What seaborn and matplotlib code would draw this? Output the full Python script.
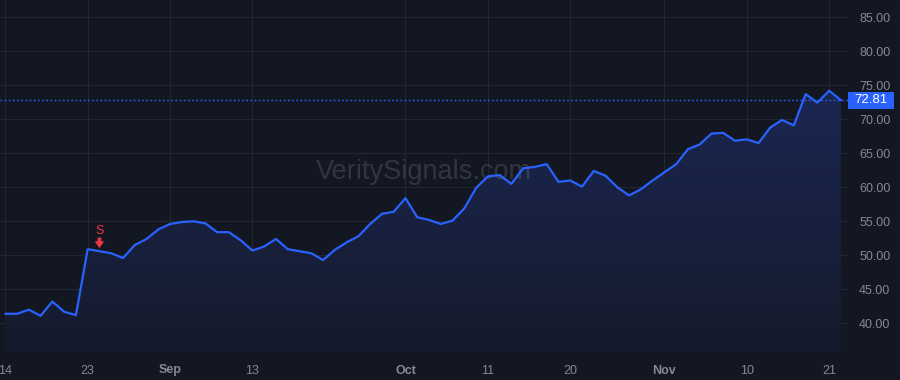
import numpy as np
import pandas as pd
import matplotlib
matplotlib.use("Agg")
import matplotlib.pyplot as plt
import matplotlib.transforms as mtransforms
from matplotlib.patches import Rectangle
from matplotlib.colors import LinearSegmentedColormap
import seaborn as sns

# ---- data ----
prices = [41.4, 41.4, 42.0, 41.1, 43.2, 41.7, 41.2, 50.9, 50.6, 50.3,
          49.6, 51.5, 52.4, 53.8, 54.6, 54.9, 55.0, 54.7, 53.4, 53.4,
          52.2, 50.7, 51.3, 52.4, 50.9, 50.6, 50.3, 49.3, 50.8, 51.9,
          52.8, 54.6, 56.1, 56.4, 58.4, 55.6, 55.2, 54.6, 55.1, 56.9,
          59.9, 61.6, 61.8, 60.5, 62.8, 63.0, 63.4, 60.8, 61.0, 60.1,
          62.4, 61.7, 60.0, 58.8, 59.7, 61.0, 62.2, 63.4, 65.6, 66.3,
          67.9, 68.0, 66.85, 67.05, 66.5, 68.8, 69.9, 69.1, 73.7, 72.45,
          74.2, 72.81]
tick_positions = [0, 7, 14, 21, 34, 41, 48, 56, 63, 70]
tick_labels = ["14", "23", "Sep", "13", "Oct", "11", "20", "Nov", "10", "21"]
bold_labels = ["Sep", "Oct", "Nov"]
y_ticks = [40, 45, 50, 55, 60, 65, 70, 75, 80, 85]
last_price = 72.81
signal_index = 8
signal_label = "S"
watermark = "VeritySignals.com"

df = pd.DataFrame({"idx": np.arange(len(prices)), "price": prices})

BG = "#131722"
GRID = "#232734"
BLUE = "#2962ff"
RED = "#f23645"
TXT = "#868993"

sns.set_theme(style="dark")
plt.rcParams["font.family"] = ["Liberation Sans", "DejaVu Sans"]

fig = plt.figure(figsize=(9, 3.8), dpi=100)
fig.patch.set_facecolor(BG)
ax = fig.add_axes([0, 28 / 380, 848 / 900, 352 / 380])
ax.set_facecolor(BG)

xmin, xmax = -0.45, 71.6
ymin, ymax = 35.78, 87.54
ax.set_xlim(xmin, xmax)
ax.set_ylim(ymin, ymax)

# gradient fill below the line
x = df["idx"].values
y = df["price"].values
poly = ax.fill_between(x, y, ymin, color="none", lw=0)
grad = np.linspace(0, 1, 256).reshape(-1, 1)
cmap = LinearSegmentedColormap.from_list("g", ["#151b2c", "#1b2652"])
im = ax.imshow(grad, cmap=cmap, origin="lower", aspect="auto",
               extent=[x[0], x[-1], ymin, max(y)], zorder=1)
path = poly.get_paths()[0]
im.set_clip_path(path, transform=ax.transData)

sns.lineplot(data=df, x="idx", y="price", ax=ax, color=BLUE, lw=1.6, zorder=3)

# grid
for t in tick_positions:
    ax.axvline(t, color=GRID, lw=0.8, zorder=0.5)
for v in y_ticks:
    ax.axhline(v, color=GRID, lw=0.8, zorder=0.5)

# last price dotted line
ax.axhline(last_price, color=BLUE, lw=1.0, ls=(0, (1.2, 1.8)), zorder=4)

# axes styling
for s in ax.spines.values():
    s.set_visible(False)
ax.set_xlabel("")
ax.set_ylabel("")
ax.set_xticks(tick_positions)
ax.set_xticklabels(tick_labels)
ax.tick_params(axis="x", length=0, pad=9, labelsize=9, labelcolor=TXT)
for lab in ax.get_xticklabels():
    if lab.get_text() in bold_labels:
        lab.set_fontweight("bold")
ax.yaxis.tick_right()
ax.set_yticks(y_ticks)
ax.set_yticklabels([f"{v:.2f}" for v in y_ticks])
ax.tick_params(axis="y", length=0, pad=8, labelsize=9, labelcolor=TXT)
ax.grid(False)

# last price label box
trans = mtransforms.blended_transform_factory(ax.transAxes, ax.transData)
ax.add_patch(Rectangle((1.0, last_price - 1.23), 46 / 848, 2.46, transform=trans,
                       facecolor=BLUE, edgecolor="none", clip_on=False, zorder=5))
ax.text(1.0 + 23 / 848, last_price, f"{last_price:.2f}", transform=trans,
        ha="center", va="center", color="white", fontsize=9.5, clip_on=False, zorder=6)

# signal marker
sx = df["idx"].iloc[signal_index]
ax.text(sx, 53.6, signal_label, color=RED, ha="center", va="center", fontsize=9, zorder=6)
ax.annotate("", xy=(sx, 51.05), xytext=(sx, 52.6),
            arrowprops=dict(arrowstyle="simple,head_width=0.75,head_length=0.55,tail_width=0.3",
                            color=RED, lw=0, shrinkA=0, shrinkB=0, mutation_scale=9),
            zorder=6)

# watermark
ax.text(0.5, 0.511, watermark, transform=ax.transAxes, ha="center", va="center",
        fontsize=19.5, color="white", alpha=0.13, zorder=2)

fig.savefig("out.png", dpi=100, facecolor=BG)
